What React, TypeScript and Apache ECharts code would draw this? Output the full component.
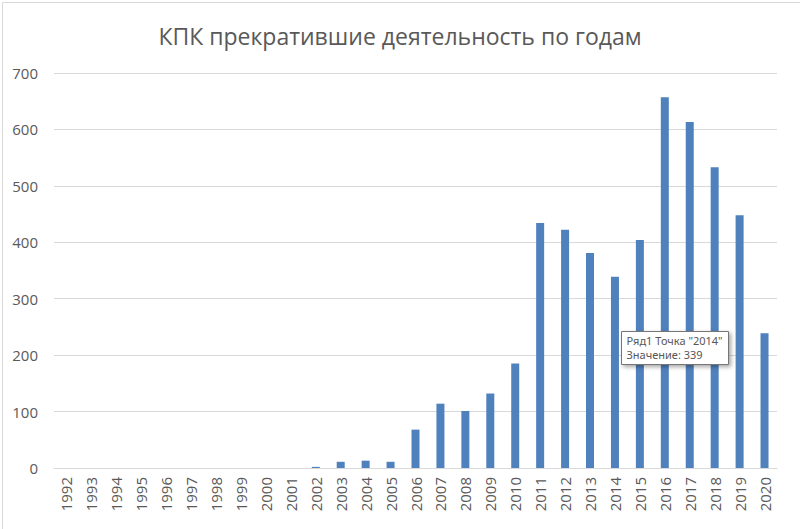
import React, { useEffect, useRef } from "react";
import * as echarts from "echarts";

const years = [
  "1992", "1993", "1994", "1995", "1996", "1997", "1998", "1999", "2000", "2001",
  "2002", "2003", "2004", "2005", "2006", "2007", "2008", "2009", "2010", "2011",
  "2012", "2013", "2014", "2015", "2016", "2017", "2018", "2019", "2020",
];
const values = [
  0, 0, 0, 0, 0, 0, 0, 0, 0, 0,
  2, 11, 13, 11, 68, 114, 101, 132, 185, 434,
  422, 381, 339, 404, 657, 613, 533, 448, 239,
];
const titleText = "КПК прекратившие деятельность по годам";
const tooltipLines = ['Ряд1 Точка "2014"', "Значение: 339"];

export default function App() {
  const ref = useRef<HTMLDivElement>(null);
  useEffect(() => {
    document.body.style.margin = "0";
    const chart = echarts.init(ref.current!, undefined, { renderer: "svg" });
    const font = "'Open Sans', 'Noto Sans', sans-serif";
    chart.setOption({
      animation: false,
      backgroundColor: "#ffffff",
      title: {
        text: titleText,
        left: "center",
        top: 19,
        textStyle: { color: "#595959", fontSize: 23, fontWeight: "normal", fontFamily: font },
      },
      grid: { left: 54, right: 23, top: 73, bottom: 61, containLabel: false },
      xAxis: {
        type: "category",
        data: years,
        axisLine: { show: true, lineStyle: { color: "#d9d9d9" } },
        axisTick: { show: false },
        axisLabel: { rotate: 90, color: "#595959", fontSize: 15, fontFamily: font, margin: 9 },
      },
      yAxis: {
        type: "value",
        min: 0,
        max: 700,
        interval: 100,
        axisLine: { show: false },
        axisTick: { show: false },
        splitLine: { lineStyle: { color: "#d9d9d9" } },
        axisLabel: { color: "#595959", fontSize: 15, fontFamily: font, margin: 16 },
      },
      series: [
        {
          type: "bar",
          data: values,
          barWidth: 8,
          itemStyle: { color: "#4f81bd" },
        },
      ],
      graphic: [
        {
          type: "rect",
          left: 0,
          top: 0,
          z: 100,
          shape: { x: 0.5, y: 0.5, width: 799, height: 528 },
          style: { fill: "none", stroke: "#d9d9d9", lineWidth: 1 },
          silent: true,
        },
        {
          type: "group",
          left: 621,
          top: 331,
          z: 100,
          children: [
            {
              type: "rect",
              z: 100,
              shape: { x: 0, y: 0, width: 107, height: 33 },
              style: {
                fill: "#ffffff",
                stroke: "#767676",
                lineWidth: 1,
                shadowBlur: 4,
                shadowOffsetX: 2,
                shadowOffsetY: 2,
                shadowColor: "rgba(0,0,0,0.35)",
              },
            },
            {
              type: "text",
              z: 101,
              x: 5,
              y: 3,
              style: { text: tooltipLines[0], fill: "#575757", fontSize: 11, fontFamily: "'Noto Sans', sans-serif" },
            },
            {
              type: "text",
              z: 101,
              x: 5,
              y: 17,
              style: { text: tooltipLines[1], fill: "#575757", fontSize: 11, fontFamily: "'Noto Sans', sans-serif" },
            },
          ],
        },
      ],
    });
    return () => chart.dispose();
  }, []);
  return <div ref={ref} style={{ position: "absolute", left: 0, top: 0, width: 800, height: 529 }} />;
}
